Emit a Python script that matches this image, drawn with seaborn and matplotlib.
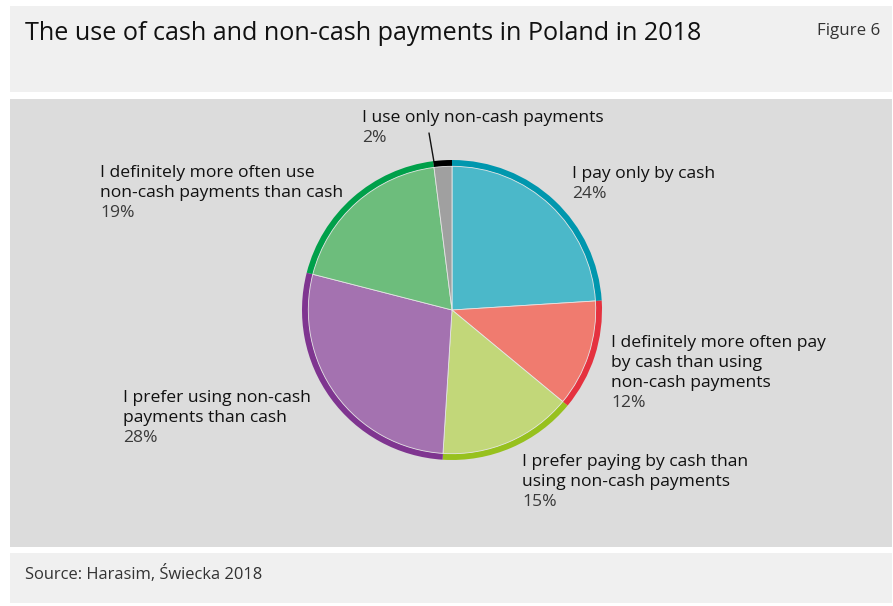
import matplotlib
matplotlib.use("Agg")
import matplotlib.pyplot as plt
from matplotlib.patches import Rectangle
import seaborn as sns

sns.set_theme(style="white")
plt.rcParams["font.family"] = ["Open Sans", "DejaVu Sans"]

# Survey answers, clockwise from 12 o'clock
labels = [
    "I pay only by cash",
    "I definitely more often pay\nby cash than using\nnon-cash payments",
    "I prefer paying by cash than\nusing non-cash payments",
    "I prefer using non-cash\npayments than cash",
    "I definitely more often use\nnon-cash payments than cash",
    "I use only non-cash payments",
]
shares = [24, 12, 15, 28, 19, 2]
fill_colors = ["#4bb8c9", "#f07b6f", "#c2d779", "#a472b0", "#6dbd7c", "#a0a0a0"]
rim_colors = ["#0097ae", "#e5323f", "#97c11e", "#7f3590", "#00a04a", "#000000"]

title = "The use of cash and non-cash payments in Poland in 2018"
figure_tag = "Figure 6"
source = "Source: Harasim, Świecka 2018"

W, H = 893, 606
fig = plt.figure(figsize=(W / 100, H / 100), dpi=100, facecolor="white")


def fx(px):
    return px / W


def fy(py):
    return 1 - py / H


# background axes holding the header, panel and footer bands
bg = fig.add_axes([0, 0, 1, 1], zorder=0)
bg.set_xlim(0, W)
bg.set_ylim(H, 0)
bg.axis("off")
bands = [(6, 92, "#f0f0f0"), (99, 547, "#dcdcdc"), (553, 603, "#f0f0f0")]
for top, bottom, col in bands:
    bg.add_patch(Rectangle((10, top), 882, bottom - top, facecolor=col, edgecolor="none"))

bg.text(25, 33, title, fontsize=18.1, color="#111111", va="center", ha="left")
bg.text(880, 31, figure_tag, fontsize=12.2, color="#333333", va="center", ha="right")
bg.text(25, 574, source, fontsize=11.9, color="#333333", va="center", ha="left")

# label blocks: (x, y of first line centre) in pixels, 20 px per line
anchors = [(572, 174), (611, 343), (522, 462), (123, 398), (100, 173), (362, 118)]
line_px = 20
for lab, val, (x, y) in zip(labels, shares, anchors):
    lines = lab.split("\n") + [f"{val}%"]
    for i, line in enumerate(lines):
        last = i == len(lines) - 1
        bg.text(x, y + i * line_px, line, fontsize=12.6,
                color="#3a3a3a" if last else "#111111", va="center", ha="left")

# leader line for the smallest slice
bg.plot([429, 434], [133, 162], color="#111111", linewidth=1)

# pie: center (452, 310), radius 150 px
cx, cy, r = 452, 310, 150
ax = fig.add_axes([fx(cx - r), fy(cy + r), fx(2 * r), (2 * r) / H], zorder=2)
ax.pie(shares, colors=rim_colors, startangle=90, counterclock=False, radius=1.0,
       wedgeprops=dict(linewidth=0))
ax.pie(shares, colors=fill_colors, startangle=90, counterclock=False, radius=0.958,
       wedgeprops=dict(linewidth=0.6, edgecolor="#e6e6e6"))
ax.set_xlim(-1, 1)
ax.set_ylim(-1, 1)
ax.set_aspect("equal")
ax.axis("off")

fig.savefig("out.png", dpi=100, facecolor="white")
